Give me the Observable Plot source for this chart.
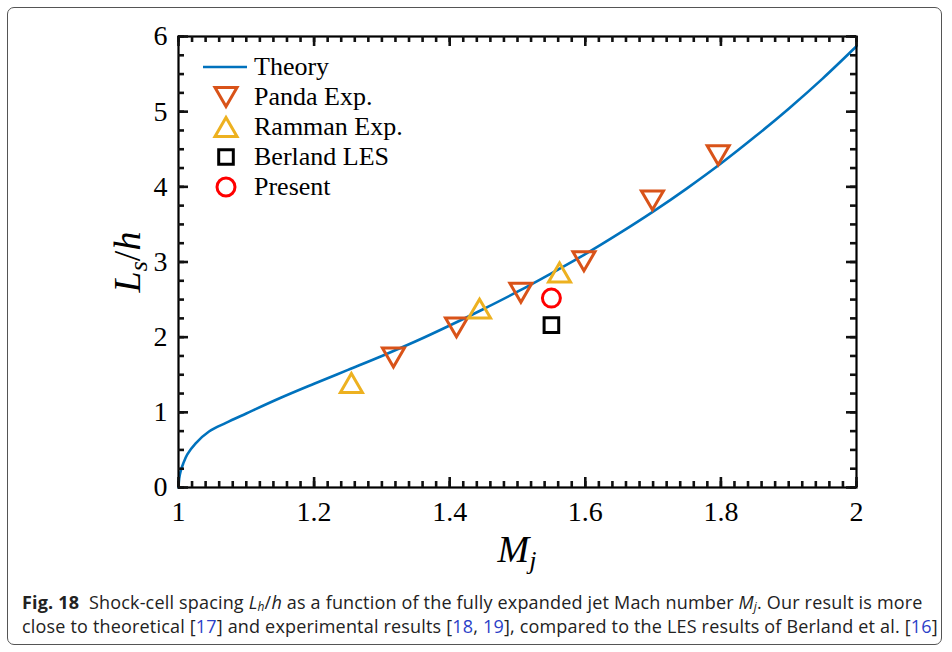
<!DOCTYPE html>
<html><head><meta charset="utf-8">
<script src="https://cdn.jsdelivr.net/npm/d3@7"></script>
<script src="https://cdn.jsdelivr.net/npm/@observablehq/plot@0.6"></script>
<style>
html,body{margin:0;padding:0;background:#fff;}
#frame{position:absolute;left:7px;top:7px;width:935px;height:638px;border:1px solid #555;border-radius:7px;box-sizing:border-box;}
#chart{position:absolute;left:0;top:0;}
#caption{position:absolute;left:22px;top:590px;font-family:"Open Sans";font-size:18px;line-height:24px;color:#222;white-space:nowrap;letter-spacing:0.18px;}
#caption .ref{color:#2b3fc8;}
#caption i{font-style:italic;}
#caption sub{font-size:12px;line-height:0;vertical-align:-0.2em;}
</style></head><body>
<div id="frame"></div>
<div id="chart"></div>
<div id="caption"><b>Fig. 18</b>&nbsp; Shock-cell spacing <i>L<sub>h</sub></i>/<i>h</i> as a function of the fully expanded jet Mach number <i>M<sub>j</sub></i>. Our result is more<br>close to theoretical [<span class="ref">17</span>] and experimental results [<span class="ref">18</span>, <span class="ref">19</span>], compared to the LES results of Berland et al. [<span class="ref">16</span>]</div>
<script>
// ---- data ----
const theoryM = [1.000, 1.001, 1.003, 1.007, 1.013, 1.025, 1.045, 1.07, 1.10, 1.15, 1.20, 1.25, 1.30, 1.35, 1.40, 1.45, 1.50, 1.55, 1.60, 1.65, 1.70, 1.75, 1.80, 1.85, 1.90, 1.95, 2.00];
const theoryL = [0.00, 0.12, 0.21, 0.32, 0.44, 0.585, 0.745, 0.86, 0.985, 1.19, 1.38, 1.565, 1.75, 1.945, 2.155, 2.375, 2.605, 2.85, 3.105, 3.38, 3.67, 3.98, 4.31, 4.665, 5.04, 5.44, 5.87];
const pandaM = [1.317, 1.410, 1.505, 1.598, 1.699, 1.796];
const pandaL = [1.73, 2.13, 2.59, 3.01, 3.82, 4.42];
const rammanM = [1.255, 1.444, 1.562];
const rammanL = [1.39, 2.38, 2.86];
const berlandM = [1.550];
const berlandL = [2.16];
const presentM = [1.550];
const presentL = [2.52];
const xTicks = [1, 1.2, 1.4, 1.6, 1.8, 2];
const yTicks = [0, 1, 2, 3, 4, 5, 6];
const legendLabels = ["Theory", "Panda Exp.", "Ramman Exp.", "Berland LES", "Present"];
const colors = {theory: "#0072BD", panda: "#D95319", ramman: "#EDB120", berland: "#000000", present: "#FF0000"};

const theory = theoryM.map((m, i) => ({m, l: theoryL[i]}));
const panda = pandaM.map((m, i) => ({m, l: pandaL[i]}));
const ramman = rammanM.map((m, i) => ({m, l: rammanL[i]}));
const berland = berlandM.map((m, i) => ({m, l: berlandL[i]}));
const present = presentM.map((m, i) => ({m, l: presentL[i]}));

// custom marker shapes
const triDown = {draw(ctx, size) {const r = Math.sqrt(size / Math.PI), b = r * 0.86; ctx.moveTo(-r, -b); ctx.lineTo(r, -b); ctx.lineTo(0, b); ctx.closePath();}};
const triUp = {draw(ctx, size) {const r = Math.sqrt(size / Math.PI), b = r * 0.86; ctx.moveTo(-r, b); ctx.lineTo(r, b); ctx.lineTo(0, -b); ctx.closePath();}};
const square = {draw(ctx, size) {const r = Math.sqrt(size / Math.PI); ctx.rect(-r, -r, 2 * r, 2 * r);}};

const W = 952, H = 570, mL = 178, mR = 96, mT = 36, mB = 83;
const plotH = H - mT - mB, plotW = W - mL - mR;
const xMinor = d3.range(0, 51).map(i => 1 + i * 0.02);
const yMinor = d3.range(0, 25).map(i => i * 0.25);
const majLen = 10, minLen = 6;
const tickStyle = {stroke: "#111", strokeWidth: 2.6};

const chart = Plot.plot({
  width: W, height: H,
  marginLeft: mL, marginRight: mR, marginTop: mT, marginBottom: mB,
  style: {fontFamily: "Liberation Serif", fontSize: "28px", background: "transparent", overflow: "visible"},
  x: {domain: [1, 2]},
  y: {domain: [0, 6]},
  marks: [
    Plot.line(theory, {x: "m", y: "l", stroke: colors.theory, strokeWidth: 2.6, curve: "catmull-rom"}),
    Plot.dot(panda, {x: "m", y: "l", symbol: triDown, r: 11, stroke: colors.panda, strokeWidth: 3, fill: "none", strokeLinejoin: "miter"}),
    Plot.dot(ramman, {x: "m", y: "l", symbol: triUp, r: 11, stroke: colors.ramman, strokeWidth: 3, fill: "none", strokeLinejoin: "miter"}),
    Plot.dot(berland, {x: "m", y: "l", symbol: square, r: 7.3, stroke: colors.berland, strokeWidth: 3, fill: "none"}),
    Plot.dot(present, {x: "m", y: "l", symbol: "circle", r: 9, stroke: colors.present, strokeWidth: 3, fill: "none"}),
    Plot.frame({stroke: "#000", strokeWidth: 2.2}),
    // inward ticks on all four sides
    Plot.ruleX(xMinor, {x: d => d, insetTop: plotH - minLen, ...tickStyle}),
    Plot.ruleX(xMinor, {x: d => d, insetBottom: plotH - minLen, ...tickStyle}),
    Plot.ruleX(xTicks, {x: d => d, insetTop: plotH - majLen, ...tickStyle}),
    Plot.ruleX(xTicks, {x: d => d, insetBottom: plotH - majLen, ...tickStyle}),
    Plot.ruleY(yMinor, {y: d => d, insetRight: plotW - minLen, ...tickStyle}),
    Plot.ruleY(yMinor, {y: d => d, insetLeft: plotW - minLen, ...tickStyle}),
    Plot.ruleY(yTicks, {y: d => d, insetRight: plotW - majLen, ...tickStyle}),
    Plot.ruleY(yTicks, {y: d => d, insetLeft: plotW - majLen, ...tickStyle}),
    Plot.axisX({ticks: xTicks, tickSize: 0, tickPadding: 14, tickFormat: d => String(d), label: null}),
    Plot.axisY({ticks: yTicks, tickSize: 0, tickPadding: 11, tickFormat: d => String(d), label: null})
  ]
});
document.getElementById("chart").appendChild(chart);

const svg = d3.select(chart);

// ---- axis titles ----
const yt = svg.append("text").attr("transform", "translate(140,262) rotate(-90)")
  .attr("text-anchor", "middle").attr("font-family", "Liberation Serif").attr("font-size", 38).attr("fill", "#000");
yt.append("tspan").attr("font-style", "italic").text("L");
yt.append("tspan").attr("font-style", "italic").attr("font-size", 26).attr("dy", 7).text("s");
yt.append("tspan").attr("dy", -7).text("/");
yt.append("tspan").attr("font-style", "italic").text("h");

const xt = svg.append("text").attr("x", 517).attr("y", 562)
  .attr("text-anchor", "middle").attr("font-family", "Liberation Serif").attr("font-size", 38).attr("fill", "#000");
xt.append("tspan").attr("font-style", "italic").text("M");
xt.append("tspan").attr("font-style", "italic").attr("font-size", 26).attr("dy", 7).text("j");

// ---- legend ----
const lg = svg.append("g").attr("font-family", "Liberation Serif").attr("font-size", 26).attr("fill", "#000").attr("text-anchor", "start");
const rowY = [67, 97, 127, 157, 187];
lg.append("line").attr("x1", 203).attr("x2", 247).attr("y1", rowY[0]).attr("y2", rowY[0]).attr("stroke", colors.theory).attr("stroke-width", 2.6);
const sym = [null, [triDown, 11, colors.panda], [triUp, 11, colors.ramman], [square, 7.3, colors.berland], [d3.symbolCircle, 9, colors.present]];
sym.forEach((s, i) => {
  if (!s) return;
  lg.append("path").attr("transform", `translate(226,${rowY[i]})`)
    .attr("d", d3.symbol(s[0], s[1] * s[1] * Math.PI)())
    .attr("fill", "none").attr("stroke", s[2]).attr("stroke-width", 3).attr("stroke-linejoin", "miter");
});
legendLabels.forEach((t, i) => {
  lg.append("text").attr("x", 254).attr("y", rowY[i] + 8).attr("text-anchor", "start").text(t);
});
</script>
</body></html>
